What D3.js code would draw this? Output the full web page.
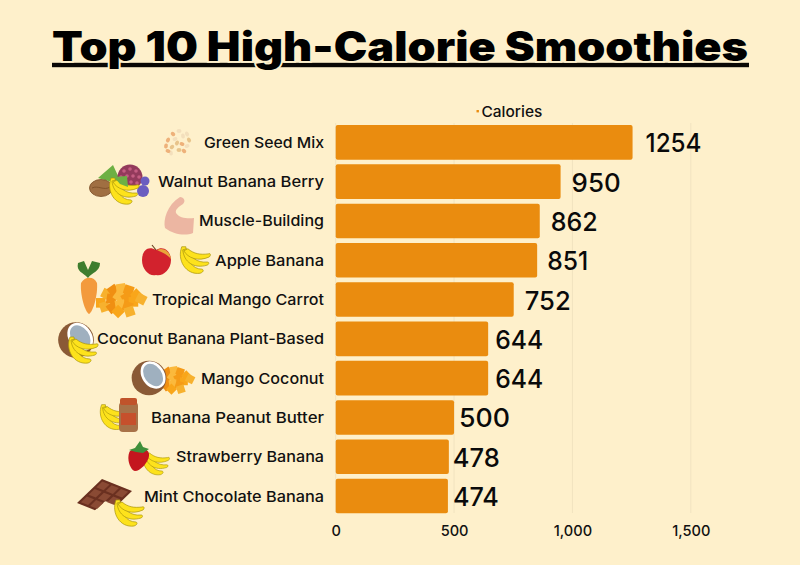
<!DOCTYPE html>
<html><head><meta charset="utf-8">
<script src="https://cdn.jsdelivr.net/npm/d3@7"></script>
<style>html,body{margin:0;padding:0;background:#fef0cb}svg{display:block}text{font-family:Inter,"Noto Sans",sans-serif}</style>
</head><body><div id="c"></div>
<script>
const categories=["Green Seed Mix","Walnut Banana Berry","Muscle-Building","Apple Banana","Tropical Mango Carrot","Coconut Banana Plant-Based","Mango Coconut","Banana Peanut Butter","Strawberry Banana","Mint Chocolate Banana"];
const calories=[1254,950,862,851,752,644,644,500,478,474];
const xTicks=[0,500,1000,1500];
const seriesName="Calories";
const titleText="Top 10 High-Calorie Smoothies";

const W=800,H=565,ORANGE="#ea8c0f",BG="#fef0cb";
const labelGap=[13,11,11,10,11,7,7,5,4,5];
const valueWidths=[56,49,47,41,46,48,48,51,47,46];
const categoryWidths=[120,166,125,109,172,227,123,173,148,180];
const svg=d3.select("#c").append("svg").attr("width",W).attr("height",H);
svg.append("rect").attr("width",W).attr("height",H).attr("fill",BG);
const x=d3.scaleLinear().domain([0,1500]).range([335.7,690.8]);
const y=d3.scaleBand().domain(categories).range([122.7,515.7]).paddingInner(0.12).paddingOuter(0.06);
const stretch=(sel,f)=>sel.each(function(){d3.select(this).attr("textLength",this.getComputedTextLength()*f).attr("lengthAdjust","spacingAndGlyphs");});

// title: underline first, the background-coloured halo makes descenders skip it
svg.append("rect").attr("x",52).attr("y",62.8).attr("width",697).attr("height",4.4).attr("fill","#0a0805");
svg.append("text").attr("x",400).attr("y",60.7).attr("text-anchor","middle")
 .attr("font-size",41).attr("font-weight",900).attr("fill","#000")
 .attr("textLength",696).attr("lengthAdjust","spacingAndGlyphs")
 .attr("stroke",BG).attr("stroke-width",3.5).attr("paint-order","stroke").text(titleText);

// grid
svg.append("g").selectAll("line").data(xTicks).join("line")
 .attr("x1",d=>x(d)).attr("x2",d=>x(d)).attr("y1",123).attr("y2",513)
 .attr("stroke","#f1e3c0").attr("stroke-width",1);

// bars
svg.append("g").selectAll("rect").data(calories).join("rect")
 .attr("x",x(0)).attr("y",(d,i)=>y(categories[i])).attr("width",d=>x(d)-x(0)).attr("height",y.bandwidth())
 .attr("rx",2).attr("fill",ORANGE);

// value labels
svg.append("g").selectAll("text").data(calories).join("text")
 .attr("x",(d,i)=>x(d)+labelGap[i]).attr("y",(d,i)=>y(categories[i])+y.bandwidth()/2+10)
 .attr("font-size",26).attr("font-weight",500).attr("fill","#0a0a0a").text(d=>d)
 .attr("textLength",(d,i)=>valueWidths[i]).attr("lengthAdjust","spacingAndGlyphs");

// category labels
svg.append("g").selectAll("text").data(categories).join("text")
 .attr("x",324).attr("y",d=>y(d)+y.bandwidth()/2+5.5).attr("text-anchor","end")
 .attr("font-size",15).attr("font-weight",450).attr("fill","#111").text(d=>d)
 .attr("textLength",(d,i)=>categoryWidths[i]).attr("lengthAdjust","spacingAndGlyphs");

// axis
const ax=d3.axisBottom(x).tickValues(xTicks).tickSize(0).tickPadding(0).tickFormat(d3.format(","));
const axg=svg.append("g").attr("transform","translate(0,526)").call(ax);
axg.select(".domain").remove();
axg.selectAll("text").attr("font-size",14.6).attr("font-weight",450).attr("fill","#111").style("font-family","Inter");

// legend
svg.append("rect").attr("x",476.5).attr("y",110).attr("width",2.4).attr("height",2.4).attr("fill",ORANGE);
svg.append("text").attr("x",481.5).attr("y",116.5).attr("font-size",15).attr("font-weight",450).attr("fill","#111").text(seriesName).call(stretch,1.03);

// ---- icons ----
const ico=svg.append("g");
function banana(cx,cy,s=1){
 const g=ico.append("g").attr("transform",`translate(${cx},${cy}) scale(${s})`);
 ["M-12,-13 C-17,0 -8,15 6,13 C9,12 10,10 8,9 C-2,9 -7,0 -8,-13Z",
  "M-11,-10 C-10,2 0,9 13,5 C15,4 15,2 13,2 C3,3 -4,-3 -7,-11Z",
  "M-10,-9 C-6,-2 4,2 15,-3 C17,-5 16,-7 14,-6 C6,-5 0,-6 -6,-11Z"]
 .forEach(p=>g.append("path").attr("d",p).attr("fill","#fde21c").attr("stroke","#a8940c").attr("stroke-width",.7));
}
function coconut(cx,cy,s=1){
 const g=ico.append("g").attr("transform",`translate(${cx},${cy}) scale(${s})`);
 g.append("circle").attr("r",17).attr("fill","#8a5a36");
 g.append("ellipse").attr("cx",4).attr("cy",-3).attr("rx",11).attr("ry",14.5).attr("transform","rotate(-35 4 -3)").attr("fill","#fff");
 g.append("ellipse").attr("cx",4).attr("cy",-3).attr("rx",8.5).attr("ry",12).attr("transform","rotate(-35 4 -3)").attr("fill","#9fb0bf");
}
function mango(cx,cy,s=1){
 const g=ico.append("g").attr("transform",`translate(${cx},${cy}) scale(${s})`);
 const c=["#f9a61a","#f7b12e","#f08f12","#fbb93c","#f59b17"];
 [[-20,4],[-14,-5],[-7,-9],[1,-11],[9,-9],[17,-4],[-16,8],[-9,0],[-1,-3],[7,-1],[14,3],[22,0],[-8,9],[0,6],[8,8],[-2,13],[10,13]].forEach((p,i)=>
  g.append("rect").attr("x",p[0]-5).attr("y",p[1]-5).attr("width",10).attr("height",10)
   .attr("transform",`rotate(${i*27} ${p[0]} ${p[1]})`).attr("fill",c[i%5]));
}
// seeds
[[179,131,1],[173,134,0],[183,136,1],[168,140,0],[175,139,1],[182,144,0],[189,140,2],[166,146,0],[172,147,2],[179,150,2],[184,151,0],[171,153,1],[177,143,2],[187,146,1],[168,151,0],[187,134,1]]
 .forEach((p,i)=>ico.append("ellipse").attr("cx",p[0]).attr("cy",p[1]).attr("rx",2.5).attr("ry",1.9)
  .attr("transform",`rotate(${i*40} ${p[0]} ${p[1]})`).attr("fill",["#eeb17a","#f3dfbc","#e8c48b"][p[2]]));
// walnut banana berry
ico.append("path").attr("d","M98,178 L113,165 L119,178 L132,180 L128,188 L112,182Z").attr("fill","#6db044");
ico.append("ellipse").attr("cx",101).attr("cy",188).attr("rx",11.5).attr("ry",8.5).attr("fill","#a06f42").attr("stroke","#7a4c26").attr("stroke-width",.8);
ico.append("path").attr("d","M92,188 C98,185 104,191 110,187").attr("fill","none").attr("stroke","#7a4c26").attr("stroke-width",.8);
ico.append("circle").attr("cx",130).attr("cy",177).attr("r",12.5).attr("fill","#933a5c");
[[124,171],[130,169],[136,171],[121,177],[127,176],[133,176],[139,177],[125,182],[131,182],[137,183]].forEach(p=>
 ico.append("circle").attr("cx",p[0]).attr("cy",p[1]).attr("r",1.8).attr("fill","#c45d82"));
ico.append("circle").attr("cx",145).attr("cy",181).attr("r",4.5).attr("fill","#6a5dc0");
ico.append("circle").attr("cx",143).attr("cy",191).attr("r",6).attr("fill","#6a5dc0");
banana(123,191,1);
ico.append("path").attr("d","M114,177 L127,176 L128,187 L120,184Z").attr("fill","#6db044");
// muscle
ico.append("path").attr("d","M180,197 C184,197 186,201 183,204 C179,207 175,209 176,213 C179,218 188,219 194,218 L193,233 C186,236 174,235 165,228 C163,220 167,205 180,197Z").attr("fill","#ecb6a2");
// apple + banana
ico.append("path").attr("d","M156,250 C147,245 142,252 142,260 C142,270 150,277 156,275 C162,277 171,270 171,260 C171,252 164,245 156,250Z").attr("fill","#d2222d");
ico.append("path").attr("d","M157,250 C164,247 170,252 171,259 C167,254 161,252 157,250Z").attr("fill","#e8a53a");
ico.append("path").attr("d","M156,250 L152,245").attr("stroke","#6b4423").attr("stroke-width",1.2);
banana(194,260,1.02);
// carrot + mango
mango(120,299,.96);
ico.append("path").attr("d","M81,283 C85,276 94,276 97,283 C98,295 93,312 89,314 C85,312 80,295 81,283Z").attr("fill","#f39a3c");
ico.append("path").attr("d","M88,278 C83,272 76,272 78,263 L84,261 L88,270 L92,261 L100,263 C100,272 92,272 88,278Z").attr("fill","#3e7d2e");
// coconut + banana
coconut(76,340,1.05); banana(82,350,1);
// mango coconut
mango(173,379,.78); coconut(149,378,1.02);
// banana + jar
banana(113,417,.95);
ico.append("rect").attr("x",119).attr("y",402).attr("width",19).attr("height",30).attr("rx",4).attr("fill","#a87248");
ico.append("rect").attr("x",120).attr("y",398).attr("width",17).attr("height",7).attr("rx",2).attr("fill","#c0532b");
ico.append("rect").attr("x",121).attr("y",413).attr("width",15).attr("height",12).attr("fill","#c6502c");
// strawberry + banana
banana(155,463,.9);
ico.append("path").attr("d","M130,451 C140,445 150,449 149,456 C148,463 140,471 135,471 C130,470 126,458 130,451Z").attr("fill","#c4161e");
ico.append("path").attr("d","M129,450 L135,448 L140,441 L143,447 L149,449 L143,453 L136,452Z").attr("fill","#3f8f3a");
// chocolate + banana
const choc=ico.append("g").attr("transform","matrix(30,12,-25,24,102,479)");
choc.append("path").attr("d","M0,0 L1,0 L1,0.55 L0.62,0.62 L0.6,1 L0,1Z").attr("fill","#6a3020");
d3.cross([0,1,2],[0,1,2]).filter(d=>!(d[0]==2&&d[1]==2)).forEach(d=>
 choc.append("rect").attr("x",0.07+d[0]*0.31).attr("y",0.07+d[1]*0.31).attr("width",0.24).attr("height",0.24).attr("fill","#8a4a34"));
banana(128,513,1);
</script></body></html>
